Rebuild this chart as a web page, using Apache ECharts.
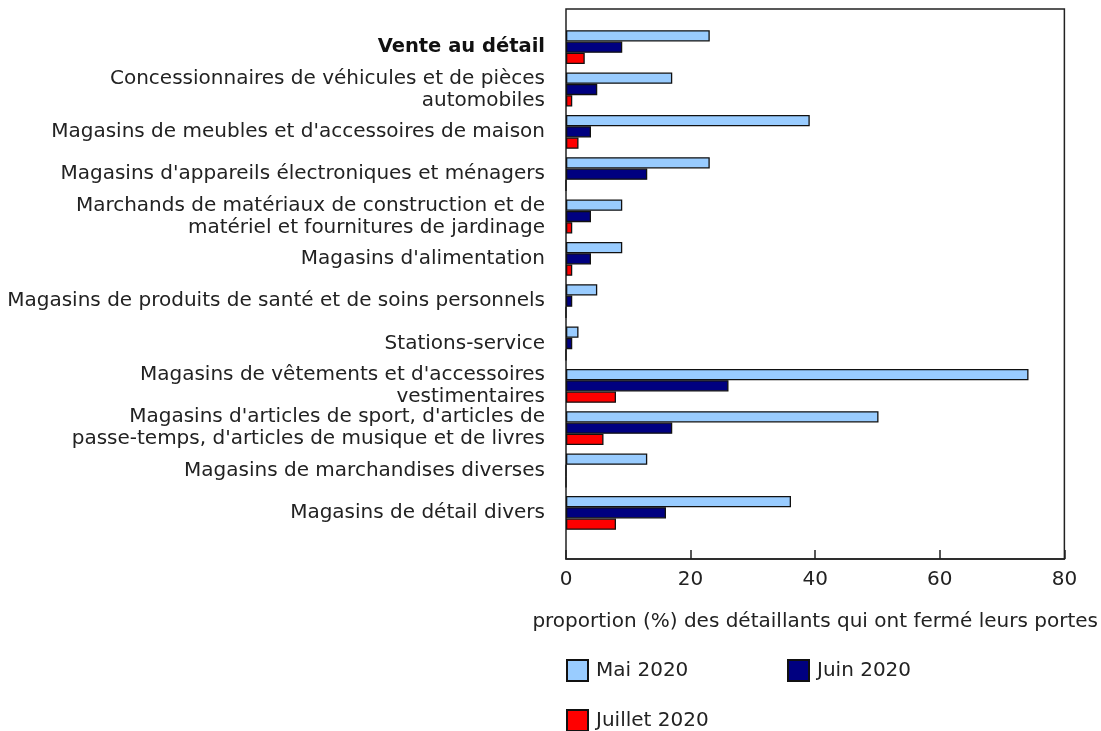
<!DOCTYPE html>
<html>
<head>
<meta charset="utf-8">
<script src="https://cdn.jsdelivr.net/npm/echarts@6/dist/echarts.min.js"></script>
<style>
  html, body { margin: 0; padding: 0; background: #fff; }
  #chart { width: 1101px; height: 731px; }
</style>
</head>
<body>
<div id="chart"></div>
<script>
const categories = [
  "Vente au détail",
  "Concessionnaires de véhicules et de pièces\nautomobiles",
  "Magasins de meubles et d'accessoires de maison",
  "Magasins d'appareils électroniques et ménagers",
  "Marchands de matériaux de construction et de\nmatériel et fournitures de jardinage",
  "Magasins d'alimentation",
  "Magasins de produits de santé et de soins personnels",
  "Stations-service",
  "Magasins de vêtements et d'accessoires\nvestimentaires",
  "Magasins d'articles de sport, d'articles de\npasse-temps, d'articles de musique et de livres",
  "Magasins de marchandises diverses",
  "Magasins de détail divers"
];
const seriesNames = ["Mai 2020", "Juin 2020", "Juillet 2020"];
const mai2020 = [23, 17, 39, 23, 9, 9, 5, 2, 74, 50, 13, 36];
const juin2020 = [9, 5, 4, 13, 4, 4, 1, 1, 26, 17, 0, 16];
const juillet2020 = [3, 1, 2, 0, 1, 1, 0, 0, 8, 6, 0, 8];
const xTicks = [0, 20, 40, 60, 80];
const axisTitle = "proportion (%) des détaillants qui ont fermé leurs portes";

const colors = ["#99ccff", "#000080", "#ff0000"];
const values = [mai2020, juin2020, juillet2020];

const chart = echarts.init(document.getElementById('chart'), null, { renderer: 'canvas' });
const FONT = "'DejaVu Sans', Verdana, sans-serif";
const FS = 20;

const legendBase = {
  orient: 'horizontal',
  padding: 0,
  itemWidth: 21,
  itemHeight: 21,
  icon: 'rect',
  textStyle: { fontFamily: FONT, fontSize: FS, color: '#222', padding: [0, 0, 0, 3] },
  selectedMode: false
};

const option = {
  animation: false,
  textStyle: { fontFamily: FONT },
  grid: [
    { left: 566, right: 35, top: 9, height: 550, show: true, borderColor: '#222', borderWidth: 1.5, backgroundColor: 'transparent' },
    { left: 566, right: 35, top: 26, height: 508 }
  ],
  xAxis: [
    {
      gridIndex: 0, type: 'value', min: xTicks[0], max: xTicks[xTicks.length - 1], interval: 20,
      axisLine: { show: true, lineStyle: { color: '#222', width: 1.5 } },
      axisTick: { show: true, inside: true, length: 9, lineStyle: { color: '#222', width: 1.5 } },
      axisLabel: { fontSize: FS, color: '#222', margin: 11, fontFamily: FONT },
      splitLine: { show: false },
      name: axisTitle, nameLocation: 'middle', nameGap: 53,
      nameTextStyle: { fontSize: FS, color: '#222', fontFamily: FONT }
    },
    {
      gridIndex: 1, type: 'value', min: xTicks[0], max: xTicks[xTicks.length - 1], show: false
    }
  ],
  yAxis: [
    { gridIndex: 0, type: 'value', show: false },
    {
      gridIndex: 1, type: 'category', inverse: true, data: categories,
      axisLine: { show: false }, axisTick: { show: false }, splitLine: { show: false },
      axisLabel: {
        fontSize: FS, color: '#222', margin: 21, lineHeight: 22, fontFamily: FONT, align: 'right',
        formatter: function (v, i) { return i === 0 ? '{b|' + v + '}' : v; },
        rich: { b: { fontWeight: 'bold', fontSize: 19.5, color: '#111', fontFamily: FONT, lineHeight: 22 } }
      }
    }
  ],
  legend: [
    Object.assign({}, legendBase, { data: [seriesNames[0]], left: 566, top: 659 }),
    Object.assign({}, legendBase, { data: [seriesNames[1]], left: 787, top: 659 }),
    Object.assign({}, legendBase, { data: [seriesNames[2]], left: 566, top: 709 })
  ],
  series: seriesNames.map(function (name, k) {
    return {
      name: name, type: 'bar', xAxisIndex: 1, yAxisIndex: 1,
      data: values[k], barWidth: 11.3, barGap: '0%',
      itemStyle: { color: colors[k], borderColor: '#111', borderWidth: 1.3 },
      emphasis: { disabled: true }
    };
  })
};
chart.setOption(option);
</script>
</body>
</html>
